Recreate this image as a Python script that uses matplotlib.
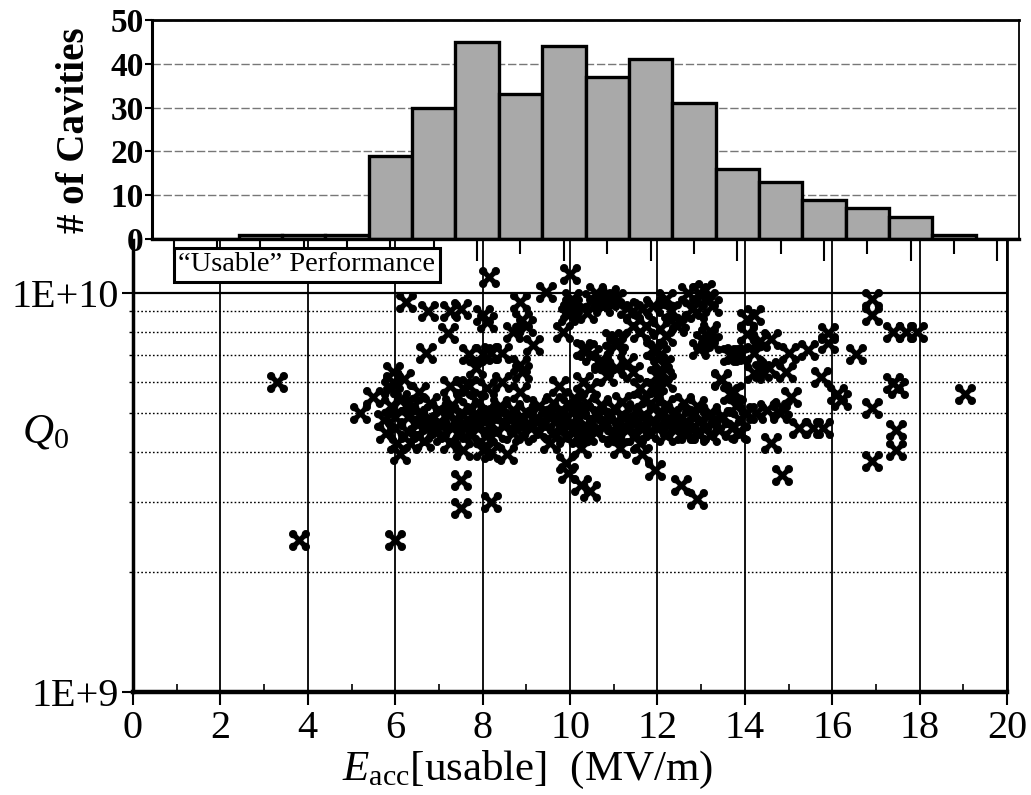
import numpy as np
import matplotlib
matplotlib.use('Agg')
import matplotlib.pyplot as plt
from matplotlib.markers import MarkerStyle
from matplotlib.path import Path
from matplotlib.ticker import FixedLocator, NullFormatter, FixedFormatter

plt.rcParams['font.family'] = ['Liberation Serif', 'DejaVu Serif']
plt.rcParams['mathtext.fontset'] = 'custom'
plt.rcParams['mathtext.rm'] = 'Liberation Serif'
plt.rcParams['mathtext.it'] = 'Liberation Serif:italic'

# ---------------- histogram data ----------------
hist_bins = list(range(20))
hist_counts = [0, 0, 1, 1, 1, 19, 30, 45, 33, 44, 37, 41, 31, 16, 13, 9, 7, 5, 1, 0]
hist_yticks = [0, 10, 20, 30, 40, 50]

# ---------------- scatter data (E in MV/m, Q0 in units of 1E+9) ----------------
e_outer = [3.3, 3.8, 6.0, 19.05, 7.5, 7.5, 8.2, 9.9, 9.95, 10.25, 10.45, 11.95, 12.55, 12.9,
           8.55, 13.85, 11.65, 14.6, 14.85, 16.9, 17.45, 17.45, 16.9, 16.2, 8.15, 10.0]
q_outer = [6.0, 2.4, 2.4, 5.6, 3.4, 2.9, 3.0, 3.75, 3.55, 3.3, 3.2, 3.6, 3.3, 3.05,
           3.95, 4.5, 3.95, 4.2, 3.5, 3.8, 4.05, 4.55, 5.15, 5.4, 11.0, 11.2]

e_right = [16.9, 16.9, 15.9, 15.9, 17.4, 17.7, 17.95, 16.55, 15.45, 15.0, 14.6, 14.2, 14.05,
           14.05, 14.35, 15.75, 16.1, 17.4, 17.5, 15.05, 14.85, 14.95, 14.55, 14.4, 14.2, 14.2,
           13.75, 13.45, 13.65, 13.8, 14.5, 14.8, 14.25, 14.05, 13.9, 15.25, 15.55, 15.8]
q_right = [9.7, 8.8, 7.95, 7.5, 8.0, 8.0, 8.0, 7.05, 7.2, 7.1, 7.7, 8.8, 8.6,
           7.9, 7.6, 6.15, 5.6, 5.95, 5.8, 5.5, 5.15, 6.35, 6.5, 6.4, 7.1, 6.3,
           7.05, 6.05, 5.6, 5.2, 5.1, 5.0, 5.0, 5.0, 4.45, 4.6, 4.6, 4.6]

e_left = [6.25, 6.75, 7.25, 7.5, 7.2, 6.7, 8.1, 8.0, 7.7, 8.0, 8.2, 7.85, 7.25, 7.55, 7.7, 8.1,
          5.95, 5.95, 6.2, 5.9, 5.5, 5.2, 6.55, 5.8, 6.05, 6.1, 7.25, 7.55, 8.0, 8.2, 6.35, 6.65,
          5.9, 6.0, 6.0, 6.1, 5.75]
q_left = [9.5, 9.05, 9.05, 9.15, 7.95, 7.1, 8.45, 8.8, 7.05, 7.05, 7.1, 6.5, 5.85, 5.8, 5.85, 5.8,
          6.35, 6.0, 6.1, 5.8, 5.5, 5.0, 5.65, 4.45, 4.2, 3.95, 4.2, 4.05, 4.05, 4.0, 4.2, 4.25,
          5.2, 4.6, 4.9, 5.4, 4.8]

e_mid = [9.45, 8.85, 8.9, 9.0, 8.7, 9.15, 8.45, 8.85, 8.9, 8.85, 10.05, 10.05, 9.95, 9.85, 10.4,
         10.6, 10.75, 10.9, 11.05, 11.3, 11.45, 11.65, 11.9, 12.2, 12.3, 12.5, 12.7, 12.95, 13.15,
         13.25, 12.8, 13.1, 10.5, 10.9, 10.0, 10.95, 11.05, 11.45, 11.6, 11.75, 12.05, 12.2, 12.45,
         13.15, 13.25, 12.95, 13.05, 13.2, 12.9, 10.3, 10.5, 10.7, 11.9, 12.05, 12.15, 12.0, 12.2,
         11.9, 11.3, 11.45, 11.05, 10.85, 11.6, 13.65, 13.9, 13.45, 13.75, 10.3, 10.45, 9.75, 8.45,
         10.4, 10.7, 11.1, 12.0, 12.1]
q_mid = [10.05, 9.5, 8.55, 8.3, 8.0, 7.4, 7.1, 6.6, 6.35, 5.65, 9.7, 9.3, 8.8, 8.0, 8.9,
         10.0, 9.3, 9.9, 9.7, 9.2, 9.0, 9.15, 9.3, 9.7, 9.0, 8.5, 10.0, 10.0, 9.7,
         9.3, 9.15, 10.2, 9.6, 9.6, 9.05, 7.7, 7.4, 8.3, 8.0, 8.3, 8.15, 7.8, 8.3,
         7.8, 7.5, 7.25, 7.6, 8.05, 8.95, 7.25, 7.0, 6.7, 7.25, 7.0, 6.6, 6.2, 6.0,
         5.8, 6.7, 6.35, 6.5, 6.2, 5.8, 7.0, 7.0, 6.1, 5.65, 6.0, 5.8, 5.85, 6.0,
         7.2, 6.8, 7.6, 7.2, 6.3]

e_fringe = [9.55, 10.25, 10.3, 11.15, 11.0, 11.6, 12.7, 12.95, 13.45]
q_fringe = [4.2, 4.1, 4.45, 4.1, 4.35, 4.2, 4.45, 4.45, 4.9]

e_band = [6.3, 6.3, 6.4, 6.5, 6.5, 6.6, 6.7, 6.8, 6.8, 6.9, 7.0, 7.0, 7.1, 7.2, 7.3, 7.3, 7.4,
          7.5, 7.5, 7.6, 7.7, 7.7, 7.8, 7.9, 7.9, 8.0, 8.1, 8.1, 8.2, 8.3, 8.3, 8.4, 8.5, 8.6,
          8.7, 8.7, 8.8, 8.9, 8.9, 9.0, 9.1, 9.2, 9.3, 9.3, 9.4, 9.5, 9.6, 9.6, 9.7, 9.8, 9.8,
          9.9, 9.9, 10.0, 10.0, 10.1, 10.1, 10.2, 10.3, 10.3, 10.4, 10.4, 10.5, 10.6, 10.6, 10.7,
          10.8, 10.9, 11.0, 11.0, 11.1, 11.2, 11.2, 11.3, 11.4, 11.5, 11.5, 11.6, 11.7, 11.7,
          11.8, 11.9, 11.9, 12.0, 12.0, 12.1, 12.2, 12.2, 12.3, 12.4, 12.4, 12.5, 12.6, 12.6,
          12.7, 12.8, 12.9, 12.9, 13.0, 13.1, 13.2, 13.2, 13.3, 13.4, 13.5, 13.7, 13.9]
q_band = [4.9, 4.5, 5.2, 4.7, 4.4, 5.0, 4.6, 4.85, 5.3, 4.5, 4.75, 5.1, 4.4, 4.95, 4.6, 5.25, 4.8,
          4.45, 5.0, 4.7, 5.15, 4.5, 4.9, 4.6, 5.35, 4.8, 4.4, 5.05, 4.7, 4.95, 4.5, 5.2, 4.65, 4.85,
          4.45, 5.1, 4.75, 4.9, 4.4, 5.05, 4.6, 4.8, 4.5, 5.2, 4.7, 4.95, 4.45, 5.3, 4.8, 4.6, 5.1,
          4.9, 4.35, 5.2, 4.7, 4.5, 5.45, 4.85, 5.05, 4.6, 4.4, 5.3, 4.75, 5.0, 4.5, 5.25,
          4.65, 4.9, 4.45, 5.15, 4.7, 5.35, 4.95, 4.55, 4.8, 5.1, 4.4, 4.65, 4.95, 5.4,
          4.5, 4.8, 5.15, 4.6, 5.5, 4.95, 4.4, 5.25, 4.75, 5.05, 4.55, 4.85, 4.45, 5.3,
          4.7, 4.95, 4.5, 5.2, 4.8, 4.6, 5.0, 4.4, 4.75, 4.55, 4.9, 4.6, 4.8]

x_ticks = [0, 2, 4, 6, 8, 10, 12, 14, 16, 18, 20]
y_major = [1, 10]
y_major_labels = ['1E+9', '1E+10']
y_minor = [2, 3, 4, 5, 6, 7, 8, 9]


def clover_marker():
    """Bold X with rounded lobes at the arm ends."""
    parts = []
    r, c, hw = 0.32, 0.55, 0.19
    for sx, sy in ((1, 1), (-1, 1), (-1, -1), (1, -1)):
        parts.append(Path.circle((sx * c, sy * c), r))
    L = c * np.sqrt(2)
    for d, n in (((1, 1), (-1, 1)), ((1, -1), (1, 1))):
        d = np.array(d) / np.sqrt(2)
        n = np.array(n) / np.sqrt(2)
        v = [-L * d - hw * n, L * d - hw * n, L * d + hw * n, -L * d + hw * n, -L * d - hw * n]
        parts.append(Path(v, [Path.MOVETO, Path.LINETO, Path.LINETO, Path.LINETO, Path.CLOSEPOLY]))
    return Path.make_compound_path(*parts)


W, H = 1031, 795
fig = plt.figure(figsize=(W / 100, H / 100), dpi=100)

# ---------------- scatter axes ----------------
ax = fig.add_axes([133 / W, 1 - 692 / H, 874 / W, 452 / H])
ax.set_yscale('log')
ax.set_xlim(0, 20)
ax.set_ylim(1, 13.6)
ax.set_xticks(x_ticks)
ax.set_xticks([1, 3, 5, 7, 9, 11, 13, 15, 17, 19], minor=True)
ax.yaxis.set_major_locator(FixedLocator(y_major))
ax.yaxis.set_major_formatter(FixedFormatter(y_major_labels))
ax.yaxis.set_minor_locator(FixedLocator(y_minor))
ax.yaxis.set_minor_formatter(NullFormatter())
ax.tick_params(axis='x', which='major', direction='out', length=9, width=1.5, labelsize=29, pad=4)
ax.tick_params(axis='x', which='minor', direction='in', length=6, width=1.2)
ax.tick_params(axis='y', which='major', direction='out', length=8, width=1.5, labelsize=29, pad=2)
ax.tick_params(axis='y', which='minor', direction='out', length=3, width=1)
ax.grid(which='major', axis='x', color='k', lw=1.3, ls='-')
ax.grid(which='major', axis='y', color='k', lw=1.6, ls='-')
ax.grid(which='minor', axis='y', color='k', lw=1.0, ls=(0, (1.2, 1.6)))
ax.set_axisbelow(True)
for s, lw in (('left', 2.5), ('bottom', 3.2), ('right', 2.0)):
    ax.spines[s].set_linewidth(lw)
ax.spines['top'].set_visible(False)

mk = MarkerStyle(clover_marker())
for ex, qy in ((e_outer, q_outer), (e_right, q_right), (e_left, q_left),
               (e_mid, q_mid), (e_fringe, q_fringe), (e_band, q_band)):
    ax.plot(ex, qy, ls='none', marker=mk, ms=14.5, mew=0.6, mec='black', mfc='black', zorder=3)

ax.set_xlabel(r'$E_{\mathrm{acc}}$[usable]  (MV/m)', fontsize=31, labelpad=0)
ax.xaxis.set_label_coords((528 - 133) / 874, -0.125)
fig.text(45 / W, 1 - 432 / H, r'$Q_0$', fontsize=31, ha='center', va='center')

fig.text(307 / W, 1 - 265 / H, '\u201cUsable\u201d Performance', fontsize=20.5,
         ha='center', va='center', zorder=10,
         bbox=dict(boxstyle='square,pad=0.15', fc='white', ec='black', lw=2.2))

# ---------------- histogram axes ----------------
axh = fig.add_axes([152 / W, 1 - 239 / H, 867 / W, 219 / H])
axh.bar(hist_bins, hist_counts, width=1.0, color='#a9a9a9', edgecolor='black', linewidth=2.4, zorder=2)
axh.set_xlim(-0.5, 19.5)
axh.set_ylim(0, 50)
axh.set_yticks(hist_yticks)
axh.set_yticklabels([str(v) for v in hist_yticks], fontweight='bold')
axh.set_xticks([i for i in hist_bins if i % 2 == 1])
axh.set_xticks([i for i in hist_bins if i % 2 == 0], minor=True)
axh.set_xticklabels([])
axh.tick_params(axis='x', which='major', direction='out', length=16, width=1.5)
axh.tick_params(axis='x', which='minor', direction='out', length=11, width=1.5)
axh.tick_params(axis='y', direction='out', length=5, width=1.5, labelsize=24, pad=1)
axh.yaxis.grid(True, color='#777777', lw=1.0, ls=(0, (6, 2)))
axh.set_axisbelow(True)
for s, lw in (('left', 2.2), ('bottom', 2.4), ('top', 2.0), ('right', 1.3)):
    axh.spines[s].set_linewidth(lw)
fig.text(74 / W, 1 - 130 / H, '# of Cavities', fontsize=28, fontweight='bold',
         rotation=90, ha='center', va='center')

fig.savefig('out.png', dpi=100)
